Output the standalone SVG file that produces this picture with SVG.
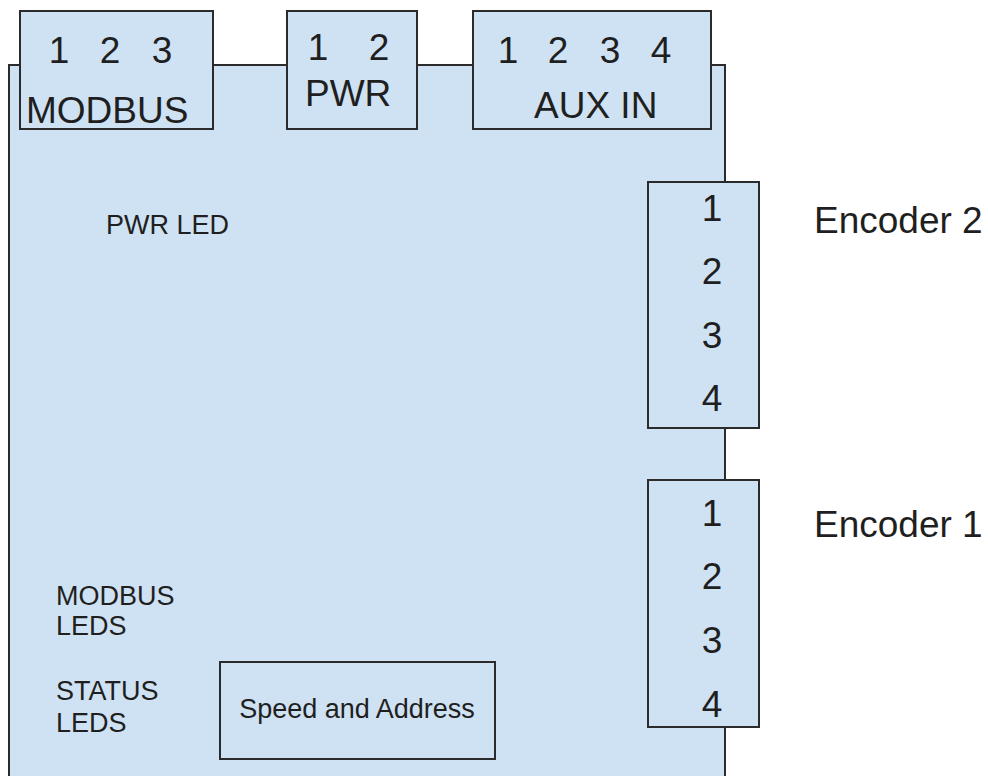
<svg xmlns="http://www.w3.org/2000/svg" width="988" height="776" viewBox="0 0 988 776">
<style>
.box{fill:#cfe2f3;stroke:#2b2b2b;stroke-width:2}
.frame{fill:none;stroke:#2b2b2b;stroke-width:2}
text{font-family:"Liberation Sans",Arial,sans-serif;fill:#1f1f1f}
.big{font-size:37px}
.mid{font-size:37px;text-anchor:middle}
.small{font-size:27px}
</style>
<rect width="988" height="776" fill="#ffffff"/>
<g id="board">
<rect class="box" x="9" y="65" width="716" height="740"/>
</g>
<g id="connectors"/>
<g id="modbus">
<rect class="box" x="20" y="11" width="193" height="118"/>
<text class="mid" y="63"><tspan x="59">1</tspan><tspan x="110">2</tspan><tspan x="162">3</tspan></text>
<text class="big" x="26" y="123">MODBUS</text>
</g>
<g id="pwr">
<rect class="box" x="287" y="11" width="130" height="118"/>
<text class="mid" y="60"><tspan x="318">1</tspan><tspan x="379">2</tspan></text>
<text class="big" x="305" y="106">PWR</text>
</g>
<g id="aux-in">
<rect class="box" x="473" y="11" width="238" height="118"/>
<text class="mid" y="63"><tspan x="508">1</tspan><tspan x="558">2</tspan><tspan x="610">3</tspan><tspan x="661">4</tspan></text>
<text class="big" x="534" y="118">AUX IN</text>
</g>
<g id="encoder2">
<rect class="box" x="648" y="182" width="111" height="246"/>
<text class="mid" x="712" y="221">1</text>
<text class="mid" x="712" y="284">2</text>
<text class="mid" x="712" y="348">3</text>
<text class="mid" x="712" y="411">4</text>
<text class="big" x="814" y="233">Encoder 2</text>
</g>
<g id="encoder1">
<rect class="box" x="648" y="480" width="111" height="247"/>
<text class="mid" x="712" y="526">1</text>
<text class="mid" x="712" y="589">2</text>
<text class="mid" x="712" y="653">3</text>
<text class="mid" x="712" y="717">4</text>
<text class="big" x="814" y="537">Encoder 1</text>
</g>
<g id="pwr-led">
<text class="small" x="106" y="234">PWR LED</text>
</g>
<g id="modbus-leds">
<text class="small" x="56" y="605">MODBUS</text>
<text class="small" x="56" y="635">LEDS</text>
</g>
<g id="status-leds">
<text class="small" x="56" y="700">STATUS</text>
<text class="small" x="56" y="732">LEDS</text>
</g>
<g id="speed-address">
<rect class="frame" x="220" y="662" width="275" height="97"/>
<text class="small" x="357" y="718" text-anchor="middle">Speed and Address</text>
</g>
</svg>
